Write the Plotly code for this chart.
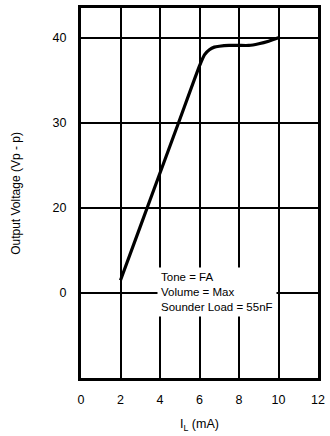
import plotly.graph_objects as go

# Load current vs. output voltage curve
il_ma = [2.0, 3.0, 4.0, 5.0, 6.0, 6.25, 6.5, 6.75, 7.0, 7.5, 8.0, 8.5, 9.0, 9.5, 10.0]
vout = [11.5, 17.8, 24.1, 30.4, 36.7, 38.0, 38.6, 38.9, 39.0, 39.1, 39.1, 39.1, 39.3, 39.6, 40.0]

x_ticks = [0, 2, 4, 6, 8, 10, 12]
y_ticks = [10, 20, 30, 40]
y_tick_text = ["0", "20", "30", "40"]

notes = ["Tone = FA", "Volume = Max", "Sounder Load = 55nF"]

font_family = "Liberation Sans, Arial, sans-serif"

fig = go.Figure()
fig.add_trace(go.Scatter(
    x=il_ma, y=vout, mode="lines",
    line=dict(color="black", width=3.2, shape="spline", smoothing=0.5),
    showlegend=False, hoverinfo="skip",
))

fig.update_xaxes(
    range=[0, 12], tickvals=x_ticks, ticktext=[str(v) for v in x_ticks],
    showgrid=True, gridcolor="black", gridwidth=1.6,
    showline=True, linecolor="black", linewidth=3, mirror=True,
    zeroline=False, ticks="", ticklabelstandoff=8,
    tickfont=dict(size=12.5, color="black", family=font_family),
    title=dict(text="I<sub>L</sub> (mA)", standoff=14,
               font=dict(size=12.5, color="black", family=font_family)),
)
fig.update_yaxes(
    range=[0, 43.5], tickvals=y_ticks, ticktext=y_tick_text,
    showgrid=True, gridcolor="black", gridwidth=1.6,
    showline=True, linecolor="black", linewidth=3, mirror=True,
    zeroline=False, ticks="", ticklabelstandoff=9,
    tickfont=dict(size=12.5, color="black", family=font_family),
)

fig.add_annotation(
    text="Output Voltage (Vp - p)", textangle=-90,
    xref="paper", yref="paper", x=-0.275, y=0.5,
    xanchor="center", yanchor="middle", showarrow=False,
    font=dict(size=12, color="black", family=font_family),
)

fig.add_annotation(
    text="<br>".join(notes), align="left",
    xref="x", yref="y", x=3.85, y=13.1,
    xanchor="left", yanchor="top", showarrow=False,
    bgcolor="white", borderpad=3,
    font=dict(size=11.5, color="black", family=font_family),
)

fig.update_layout(
    width=330, height=436,
    margin=dict(l=81, r=7, t=5, b=58),
    paper_bgcolor="white", plot_bgcolor="white",
)

fig.write_html("out.html")
